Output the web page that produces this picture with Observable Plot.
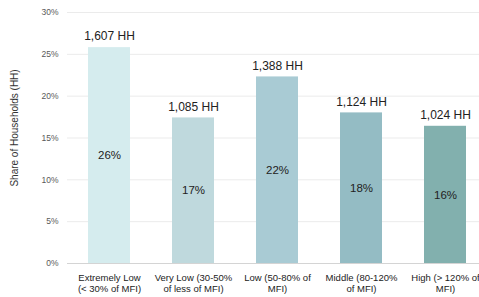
<!DOCTYPE html>
<html>
<head>
<meta charset="utf-8">
<script src="https://cdn.jsdelivr.net/npm/d3@7"></script>
<script src="https://cdn.jsdelivr.net/npm/@observablehq/plot@0.6"></script>
<style>
  html, body { margin: 0; padding: 0; background: #fff; overflow: hidden; }
  svg { overflow: hidden; }
</style>
</head>
<body>
<div id="chart"></div>
<script>
const categories = [
  "Extremely Low\n(< 30% of MFI)",
  "Very Low (30-50%\nof less of MFI)",
  "Low (50-80% of\nMFI)",
  "Middle (80-120%\nof MFI)",
  "High (> 120% of\nMFI)"
];
const shares = [25.8, 17.4, 22.3, 18.0, 16.4];
const households = [1607, 1085, 1388, 1124, 1024];
const pctLabels = ["26%", "17%", "22%", "18%", "16%"];
const colors = ["#d5ecee", "#bfd9dd", "#a9cbd4", "#94bcc4", "#82b0ae"];
const yTicks = [0, 5, 10, 15, 20, 25, 30];
const yLabel = "Share of Households (HH)";

const data = categories.map((c, i) => ({
  cat: c, share: shares[i], hh: households[i], pct: pctLabels[i], color: colors[i]
}));

const font = "'Liberation Sans', Arial, sans-serif";

const chart = Plot.plot({
  width: 479,
  height: 297,
  marginLeft: 67,
  marginRight: 0,
  marginTop: 12,
  marginBottom: 34,
  style: { fontFamily: font, background: "#fff" },
  x: { domain: categories, range: [67, 487], paddingInner: 0.5, paddingOuter: 0.25, label: null, axis: null },
  y: { domain: [0, 30], label: null, axis: null },
  marks: [
    Plot.ruleY(yTicks.filter(d => d > 0), { stroke: "#ebebeb", strokeWidth: 1 }),
    Plot.barY(data, { x: "cat", y: "share", fill: "color" }),
    Plot.ruleY([0], { stroke: "#d4d4d4", strokeWidth: 1 }),
    Plot.axisY(yTicks, { tickSize: 0, tickPadding: 9, tickFormat: d => d + "%", fill: "#595959", fontSize: 8.5, label: null }),
    Plot.text([yLabel], { frameAnchor: "left", textAnchor: "middle", y: [16.2], text: d => d, rotate: -90, dx: -53, fill: "#333", fontSize: 10 }),
    Plot.text(data, { x: "cat", y: d => d.share, text: d => d3.format(",")(d.hh) + " HH", dy: -11, fill: "#222", fontSize: 12 }),
    Plot.text(data, { x: "cat", y: d => d.share / 2, text: "pct", fill: "#222", fontSize: 11.5 }),
    Plot.text(data, { x: "cat", y: 0, text: "cat", dy: 19.5, fill: "#222", fontSize: 9.5, lineHeight: 1.1 })
  ]
});
document.getElementById("chart").appendChild(chart);
</script>
</body>
</html>
